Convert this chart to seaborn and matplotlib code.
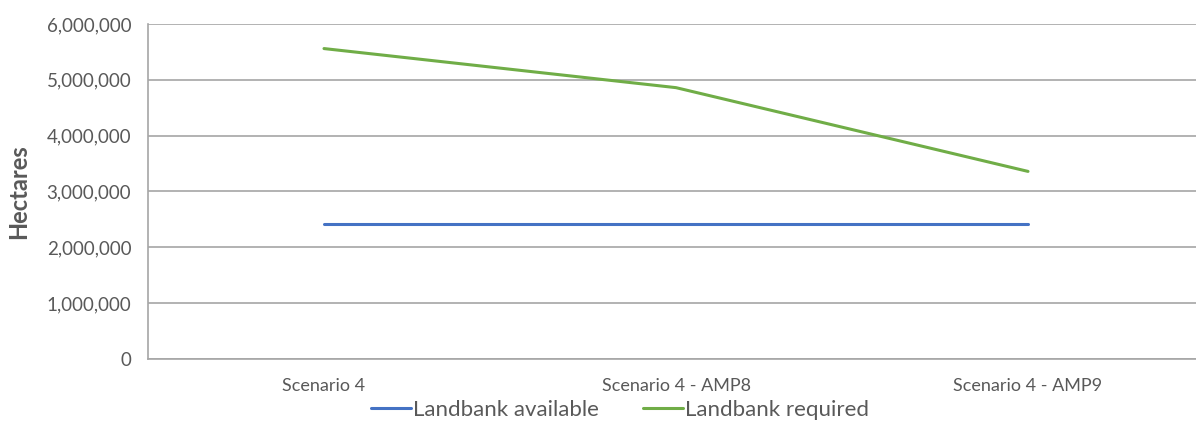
import numpy as np, pandas as pd
import matplotlib; matplotlib.use("Agg")
import matplotlib.pyplot as plt
import seaborn as sns
from matplotlib.ticker import FuncFormatter

SCENARIOS = ['Scenario 4', 'Scenario 4 - AMP8', 'Scenario 4 - AMP9']
AVAILABLE = [2420000, 2420000, 2420000]
REQUIRED = [5560000, 4860000, 3360000]
SERIES = ['Landbank available', 'Landbank required']
COLORS = ['#4472C4', '#70AD47']

d = pd.DataFrame({'scenario': SCENARIOS * 2,
                  'series': [SERIES[0]] * 3 + [SERIES[1]] * 3,
                  'ha': AVAILABLE + REQUIRED})

sns.set_style("white")
plt.rcParams['font.family'] = ['Lato', 'DejaVu Sans']

W, H = 1196, 424
fig = plt.figure(figsize=(W / 100, H / 100), dpi=100)
ax = fig.add_axes([148 / W, (H - 359) / H, (1204 - 148) / W, (359 - 24) / H])

sns.lineplot(data=d, x='scenario', y='ha', hue='series', palette=COLORS,
             linewidth=2.2, sort=False, ax=ax, legend=False)

ax.set_xlim(-0.5, 2.5); ax.set_ylim(0, 6000000)
ax.set_yticks(np.arange(0, 6000001, 1000000))
ax.yaxis.set_major_formatter(FuncFormatter(lambda v, p: f"{int(v):,}"))
ax.yaxis.grid(True, color='#a6a6a6', linewidth=1.2)
ax.set_axisbelow(True)
for s in ['top', 'right']:
    ax.spines[s].set_visible(False)
for s in ['left', 'bottom']:
    ax.spines[s].set_color('#a6a6a6'); ax.spines[s].set_linewidth(1.2)
ax.tick_params(axis='y', length=0, labelsize=13.5, colors='#595959', pad=12)
ax.tick_params(axis='x', length=0, labelsize=13, colors='#595959', pad=14)
ax.set_xlabel('')
ax.set_ylabel('Hectares', fontsize=17, fontweight='bold', color='#595959', labelpad=12)

handles = [plt.Line2D([], [], color=c, linewidth=2.2) for c in COLORS]
fig.legend(handles, SERIES, loc='center', bbox_to_anchor=(620 / W, 1 - 410 / H),
           ncol=2, frameon=False, fontsize=16, handlelength=1.8, handletextpad=0.1,
           columnspacing=2.0, labelcolor='#595959')

fig.savefig("out.png", dpi=100)
